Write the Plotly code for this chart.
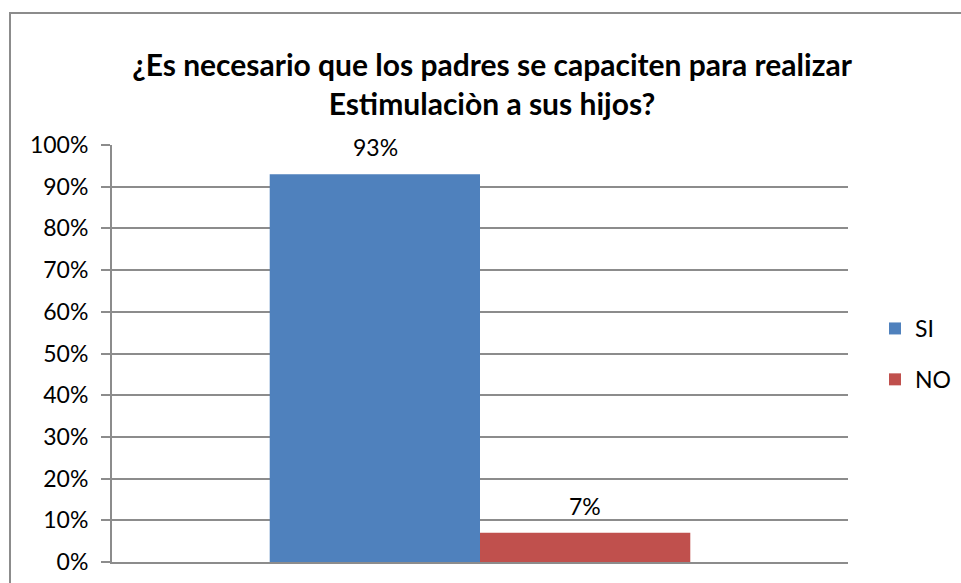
import plotly.graph_objects as go

categories = ["Respuesta"]
series_names = ["SI", "NO"]
si_values = [0.93]
no_values = [0.07]
colors = ["#4F81BD", "#C0504D"]
tick_vals = [0, 0.1, 0.2, 0.3, 0.4, 0.5, 0.6, 0.7, 0.8, 0.9, 1.0]
tick_text = ["0%", "10%", "20%", "30%", "40%", "50%", "60%", "70%", "80%", "90%", "100%"]
title_text = "¿Es necesario que los padres se capaciten para realizar<br>Estimulaciòn a sus hijos?"

FONT = "Lato"
W, H = 961, 583
L, R, T, B = 112, 113, 145, 21

fig = go.Figure()
for name, vals, col, grp in [(series_names[0], si_values, colors[0], "a"),
                             (series_names[1], no_values, colors[1], "b")]:
    fig.add_trace(go.Bar(x=categories, y=vals, name=name, marker_color=col,
                         marker_line_width=0, legendgroup=grp))

# data labels
for i, vals in enumerate([si_values, no_values]):
    fig.add_annotation(x=categories[0], y=vals[0], text=f"{round(vals[0]*100)}%",
                       showarrow=False, xshift=(-105 if i == 0 else 105), yshift=27,
                       font=dict(family=FONT, size=23, color="#000"))

pw = W - L - R
ph = H - T - B
def px_x(p):
    return (p - L) / pw
def px_y(p):
    return (H - B - p) / ph

fig.add_shape(type="rect", xref="paper", yref="paper",
              x0=px_x(10), x1=px_x(975), y0=px_y(600), y1=px_y(13),
              line=dict(color="#8C8C8C", width=2), fillcolor="rgba(0,0,0,0)", layer="below")

fig.update_layout(
    width=W, height=H,
    margin=dict(l=L, r=R, t=T, b=B, autoexpand=False),
    paper_bgcolor="white", plot_bgcolor="white",
    barmode="group", bargap=1.5/3.5, bargroupgap=0,
    title=dict(text=title_text, x=492/W, xanchor="center", y=1 - 76/H, yanchor="middle",
               font=dict(family=FONT, size=30, color="#000", weight="bold")),
    font=dict(family=FONT, size=23, color="#000"),
    legend=dict(x=px_x(875), xanchor="left", y=px_y(354), yanchor="middle",
                font=dict(family=FONT, size=23), tracegroupgap=18,
                bgcolor="rgba(0,0,0,0)", itemwidth=30),
    showlegend=True,
)
fig.update_yaxes(range=[0, 1], tickvals=tick_vals, ticktext=tick_text,
                 showgrid=True, gridcolor="#8C8C8C", gridwidth=2,
                 showline=True, linecolor="#8C8C8C", linewidth=2,
                 ticks="outside", ticklen=9, tickcolor="#8C8C8C", tickwidth=2,
                 ticklabelstandoff=8, zeroline=False, automargin=False,
                 tickfont=dict(family=FONT, size=23, color="#000"))
fig.update_xaxes(type="category", showline=True, linecolor="#8C8C8C", linewidth=2,
                 showticklabels=False, ticks="", showgrid=False, automargin=False)

fig.write_html("out.html", config={"displayModeBar": False},
               post_script="document.body.style.margin='0';document.body.style.overflow='hidden';")
